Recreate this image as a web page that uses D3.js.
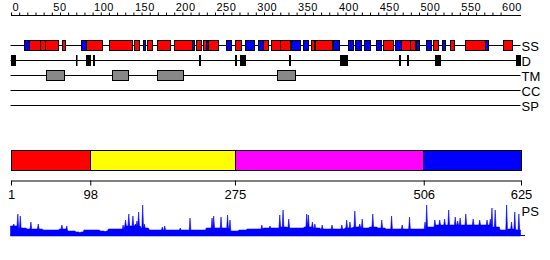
<!DOCTYPE html>
<html>
<head>
<meta charset="utf-8">
<script src="https://cdn.jsdelivr.net/npm/d3@7"></script>
<style>
  body { margin: 0; background: #fff; }
  svg { display: block; }
  .lbl { font-family: "Liberation Sans", Arial, sans-serif; font-size: 13px; fill: #000; }
  .axis text { font-family: "Liberation Sans", Arial, sans-serif; }
</style>
</head>
<body>
<div id="chart"></div>
<script>
var seqLength = 625;

// secondary structure: [start, end, type]  H = helix (red), E = strand (blue)
var ssSegments = [
  [16, 23, "E"], [23, 36, "H"], [36, 42, "H"], [42, 58, "H"], [63, 67, "H"],
  [86, 93, "E"], [93, 112, "H"], [121, 149, "H"], [151, 157, "H"], [162, 165, "E"],
  [167, 173, "H"], [180, 196, "H"], [200, 223, "H"], [223, 225, "E"], [227, 233, "H"],
  [236, 239, "H"], [239, 242, "E"], [242, 254, "H"], [264, 270, "E"], [275, 283, "H"],
  [287, 298, "E"], [303, 309, "E"], [309, 315, "H"], [319, 330, "H"], [330, 342, "H"],
  [344, 355, "E"], [358, 364, "E"], [368, 372, "H"], [373, 394, "H"], [395, 402, "E"],
  [414, 420, "E"], [422, 430, "E"], [433, 441, "E"], [448, 454, "E"], [456, 469, "H"],
  [471, 479, "E"], [479, 490, "H"], [490, 496, "H"], [497, 501, "E"], [509, 515, "E"],
  [518, 524, "H"], [529, 533, "E"], [538, 543, "H"], [557, 582, "H"], [582, 585, "E"],
  [603, 614, "H"]
];

// disordered regions
var disorder = [
  [0, 7], [80, 82], [92, 99], [101, 104], [231, 233], [275, 278], [281, 289],
  [341, 344], [404, 413], [476, 478], [486, 488], [520, 527], [620, 625]
];

// transmembrane segments
var tmSegments = [[43, 66], [124, 144], [180, 211], [326, 349]];

// domain boundaries
var domains = [
  { start: 1, end: 98, color: "#ff0000" },
  { start: 98, end: 275, color: "#ffff00" },
  { start: 275, end: 506, color: "#ff00ff" },
  { start: 506, end: 625, color: "#0000ff" }
];
var domainTicks = [1, 98, 275, 506, 625];

var trackNames = ["SS", "D", "TM", "CC", "SP"];

// PS profile: background level per block of 10 residues
var psBase = [
  10, 8, 7, 7, 6, 6, 7, 5, 4, 6,
  6, 5, 7, 7, 10, 10, 8, 6, 6, 6,
  6, 6, 6, 6, 8, 8, 8, 5, 6, 7,
  7, 8, 8, 9, 8, 8, 9, 8, 7, 7,
  7, 8, 9, 8, 9, 8, 7, 7, 7, 7,
  7, 9, 11, 11, 11, 11, 11, 11, 11, 9,
  6, 7, 6
];
// PS peaks: [residue, score]
var psPeaks = [
  [4, 12], [9, 22], [12, 20], [25, 14], [34, 12], [63, 11], [69, 10], [85, 3],
  [116, 4], [138, 11], [141, 16], [145, 22], [150, 20], [153, 12], [155, 15],
  [157, 24], [162, 31], [164, 12], [186, 9], [189, 10], [208, 8], [220, 18],
  [247, 18], [249, 20], [258, 19], [266, 21], [269, 16], [308, 11], [318, 10],
  [330, 21], [334, 26], [341, 17], [363, 22], [365, 21], [370, 14], [373, 12],
  [382, 11], [394, 11], [406, 11], [412, 16], [416, 14], [422, 25], [428, 12],
  [431, 17], [444, 22], [455, 16], [467, 20], [480, 11], [489, 19], [508, 14],
  [510, 31], [520, 16], [526, 16], [532, 17], [537, 26], [545, 19], [548, 15],
  [551, 18], [558, 22], [567, 17], [575, 16], [584, 16], [588, 17], [590, 28],
  [594, 26], [608, 31], [614, 14], [618, 24], [623, 22]
];

var width = 550, height = 260;

var svg = d3.select("#chart").append("svg")
  .attr("width", width)
  .attr("height", height);

var x = d3.scaleLinear().domain([0, seqLength]).range([10.5, 520.5]);

// top ruler
var topAxis = d3.axisTop(x)
  .tickValues(d3.range(0, 601, 10))
  .tickSize(3)
  .tickSizeOuter(0)
  .tickFormat(function (d) { return d % 50 === 0 ? d : ""; });

var gTop = svg.append("g")
  .attr("class", "axis")
  .attr("transform", "translate(0.5,15.5)")
  .call(topAxis);
gTop.select(".domain").attr("d", "M" + x(0) + ",0H" + x(seqLength));
gTop.selectAll("text")
  .attr("text-anchor", "start")
  .attr("x", 1)
  .attr("y", -4.5)
  .attr("dy", 0)
  .style("font-size", "11px")
  .style("letter-spacing", "0.5px");

// tracks
var trackY = { SS: 45.5, D: 60.5, TM: 75.5, CC: 90.5, SP: 105.5 };

trackNames.forEach(function (name) {
  svg.append("line")
    .attr("x1", x(0)).attr("x2", x(seqLength))
    .attr("y1", trackY[name]).attr("y2", trackY[name])
    .attr("stroke", "#000");
  svg.append("text")
    .attr("class", "lbl")
    .attr("x", x(seqLength) + 1)
    .attr("y", trackY[name] + 5)
    .text(name);
});

// secondary structure boxes
svg.selectAll(".ss")
  .data(ssSegments)
  .enter().append("rect")
  .attr("class", "ss")
  .attr("x", function (d) { return Math.round(x(d[0])) + 0.5; })
  .attr("y", 40.5)
  .attr("width", function (d) { return Math.max(1, Math.round(x(d[1])) - Math.round(x(d[0]))); })
  .attr("height", 10)
  .attr("fill", function (d) { return d[2] === "H" ? "#ff0000" : "#0000ff"; })
  .attr("stroke", "#000");

// disorder boxes
svg.selectAll(".dis")
  .data(disorder)
  .enter().append("rect")
  .attr("class", "dis")
  .attr("x", function (d) { return Math.round(x(d[0])); })
  .attr("y", 55)
  .attr("width", function (d) { return Math.max(1.5, Math.round(x(d[1])) - Math.round(x(d[0]))); })
  .attr("height", 11)
  .attr("fill", "#000");

// transmembrane boxes
svg.selectAll(".tm")
  .data(tmSegments)
  .enter().append("rect")
  .attr("class", "tm")
  .attr("x", function (d) { return Math.round(x(d[0])) + 0.5; })
  .attr("y", 70.5)
  .attr("width", function (d) { return Math.round(x(d[1])) - Math.round(x(d[0])); })
  .attr("height", 10)
  .attr("fill", "#888888")
  .attr("stroke", "#000");

// domain bar
svg.selectAll(".dom")
  .data(domains)
  .enter().append("rect")
  .attr("class", "dom")
  .attr("x", function (d) { return Math.round(x(d.start === 1 ? 0 : d.start)) + 0.5; })
  .attr("y", 150.5)
  .attr("width", function (d) {
    return Math.round(x(d.end)) - Math.round(x(d.start === 1 ? 0 : d.start));
  })
  .attr("height", 20)
  .attr("fill", function (d) { return d.color; })
  .attr("stroke", "#000");

// domain boundary axis
var domScale = d3.scaleLinear().domain([1, seqLength]).range([x(0), x(seqLength)]);
var gBot = svg.append("g")
  .attr("class", "axis")
  .attr("transform", "translate(0.5,180.5)")
  .call(d3.axisBottom(domScale).tickValues(domainTicks).tickSize(5).tickSizeOuter(0));
gBot.selectAll("text")
  .attr("y", 9)
  .style("font-size", "13px");

// PS profile
var psValues = d3.range(0, seqLength + 1).map(function (r) {
  return psBase[Math.min(psBase.length - 1, Math.floor(r / 10))];
});
psPeaks.forEach(function (p) { psValues[p[0]] = p[1]; });

var yPS = d3.scaleLinear().domain([0, 31]).range([236, 205]);

var area = d3.area()
  .x(function (d, i) { return x(i); })
  .y0(yPS(0))
  .y1(function (d) { return yPS(d); });

svg.append("path")
  .datum(psValues)
  .attr("d", area)
  .attr("fill", "#0000ff")
  .attr("stroke", "#0000ff")
  .attr("stroke-width", 0.6);

svg.append("line")
  .attr("x1", x(0)).attr("x2", x(seqLength) + 4.5)
  .attr("y1", 235.5).attr("y2", 235.5)
  .attr("stroke", "#0000ff");

svg.append("text")
  .attr("class", "lbl")
  .attr("x", x(seqLength) + 1)
  .attr("y", 216)
  .text("PS");
</script>
</body>
</html>
